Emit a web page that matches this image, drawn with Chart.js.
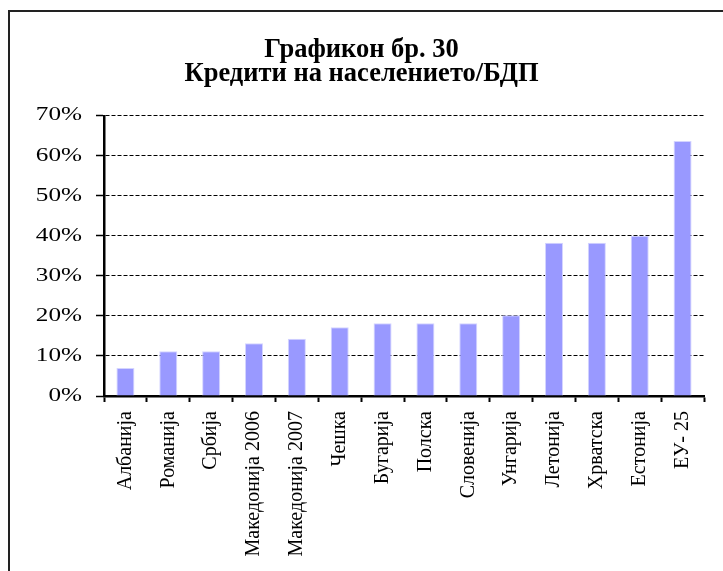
<!DOCTYPE html>
<html>
<head>
<meta charset="utf-8">
<script src="https://cdn.jsdelivr.net/npm/chart.js@4"></script>
<style>
  html, body { margin: 0; padding: 0; background: #ffffff; }
  #wrap { position: relative; width: 723px; height: 571px; }
</style>
</head>
<body>
<div id="wrap"><canvas id="c" width="723" height="571"></canvas></div>
<script>
const categories = ['Албанија', 'Романија', 'Србија', 'Македонија 2006', 'Македонија 2007', 'Чешка', 'Бугарија', 'Полска', 'Словенија', 'Унгарија', 'Летонија', 'Хрватска', 'Естонија', 'ЕУ- 25'];
const values = [7, 11.2, 11.2, 13.2, 14.3, 17.2, 18.2, 18.2, 18.2, 20.2, 38.3, 38.3, 40, 63.7];
const titleLines = ['Графикон бр. 30', 'Кредити на населението/БДП'];
const yMin = 0, yMax = 70, yStep = 10;

const framePlugin = {
  id: 'frame',
  beforeDraw(chart) {
    const ctx = chart.ctx;
    ctx.save();
    ctx.fillStyle = '#ffffff';
    ctx.fillRect(0, 0, chart.width, chart.height);
    ctx.strokeStyle = '#222222';
    ctx.lineWidth = 2;
    ctx.beginPath();
    ctx.moveTo(chart.width, 11);
    ctx.lineTo(9, 11);
    ctx.lineTo(9, chart.height);
    ctx.stroke();
    ctx.restore();
  }
};

// widen the y tick labels horizontally (the reference uses a wide face)
function stretchYLabels(scale) {
  if (scale._stretched) return;
  scale._stretched = true;
  const orig = scale.drawLabels;
  scale.drawLabels = function (area) {
    const ctx = this.ctx;
    const items = this.getLabelItems(area);
    const x0 = items.length ? items[0].options.translation[0] : 0;
    ctx.save();
    ctx.translate(x0, 0);
    ctx.scale(1.4, 1);
    ctx.translate(-x0, 0);
    orig.call(this, area);
    ctx.restore();
  };
}

new Chart(document.getElementById('c'), {
  type: 'bar',
  data: {
    labels: categories,
    datasets: [{
      data: values,
      backgroundColor: '#9999ff',
      borderColor: '#d4d4ff',
      borderWidth: 1,
      barPercentage: 0.42,
      categoryPercentage: 1.0
    }]
  },
  options: {
    responsive: false,
    animation: false,
    devicePixelRatio: 1,
    layout: { padding: { left: 19, right: 19, top: 0, bottom: 0 } },
    plugins: {
      legend: { display: false },
      tooltip: { enabled: false },
      title: {
        display: true,
        text: titleLines,
        color: '#000000',
        font: { family: 'Liberation Serif', size: 26.5, weight: 'bold', lineHeight: 0.92 },
        padding: { top: 38, bottom: 29 }
      }
    },
    scales: {
      x: {
        afterFit(scale) { scale.height = 175; },
        grid: {
          display: true,
          drawOnChartArea: false,
          offset: true,
          drawTicks: true,
          tickLength: 6,
          tickColor: '#000000',
          tickWidth: 2
        },
        border: { display: true, color: '#000000', width: 2.5 },
        ticks: {
          color: '#000000',
          font: { family: 'Liberation Serif', size: 20 },
          maxRotation: 90,
          minRotation: 90,
          autoSkip: false,
          padding: 9
        }
      },
      y: {
        min: yMin,
        max: yMax,
        afterFit(scale) { scale.width = 85; stretchYLabels(scale); },
        grid: {
          color: '#000000',
          lineWidth: 1,
          drawTicks: true,
          tickLength: 8,
          tickColor: '#000000',
          tickWidth: 1.5,
          tickBorderDash: []
        },
        border: { display: true, color: '#000000', width: 2.5, dash: [4, 2] },
        ticks: {
          stepSize: yStep,
          color: '#000000',
          padding: 14,
          font: { family: 'Liberation Serif', size: 18 },
          callback: (v) => v + '%'
        }
      }
    }
  },
  plugins: [framePlugin]
});
</script>
</body>
</html>
